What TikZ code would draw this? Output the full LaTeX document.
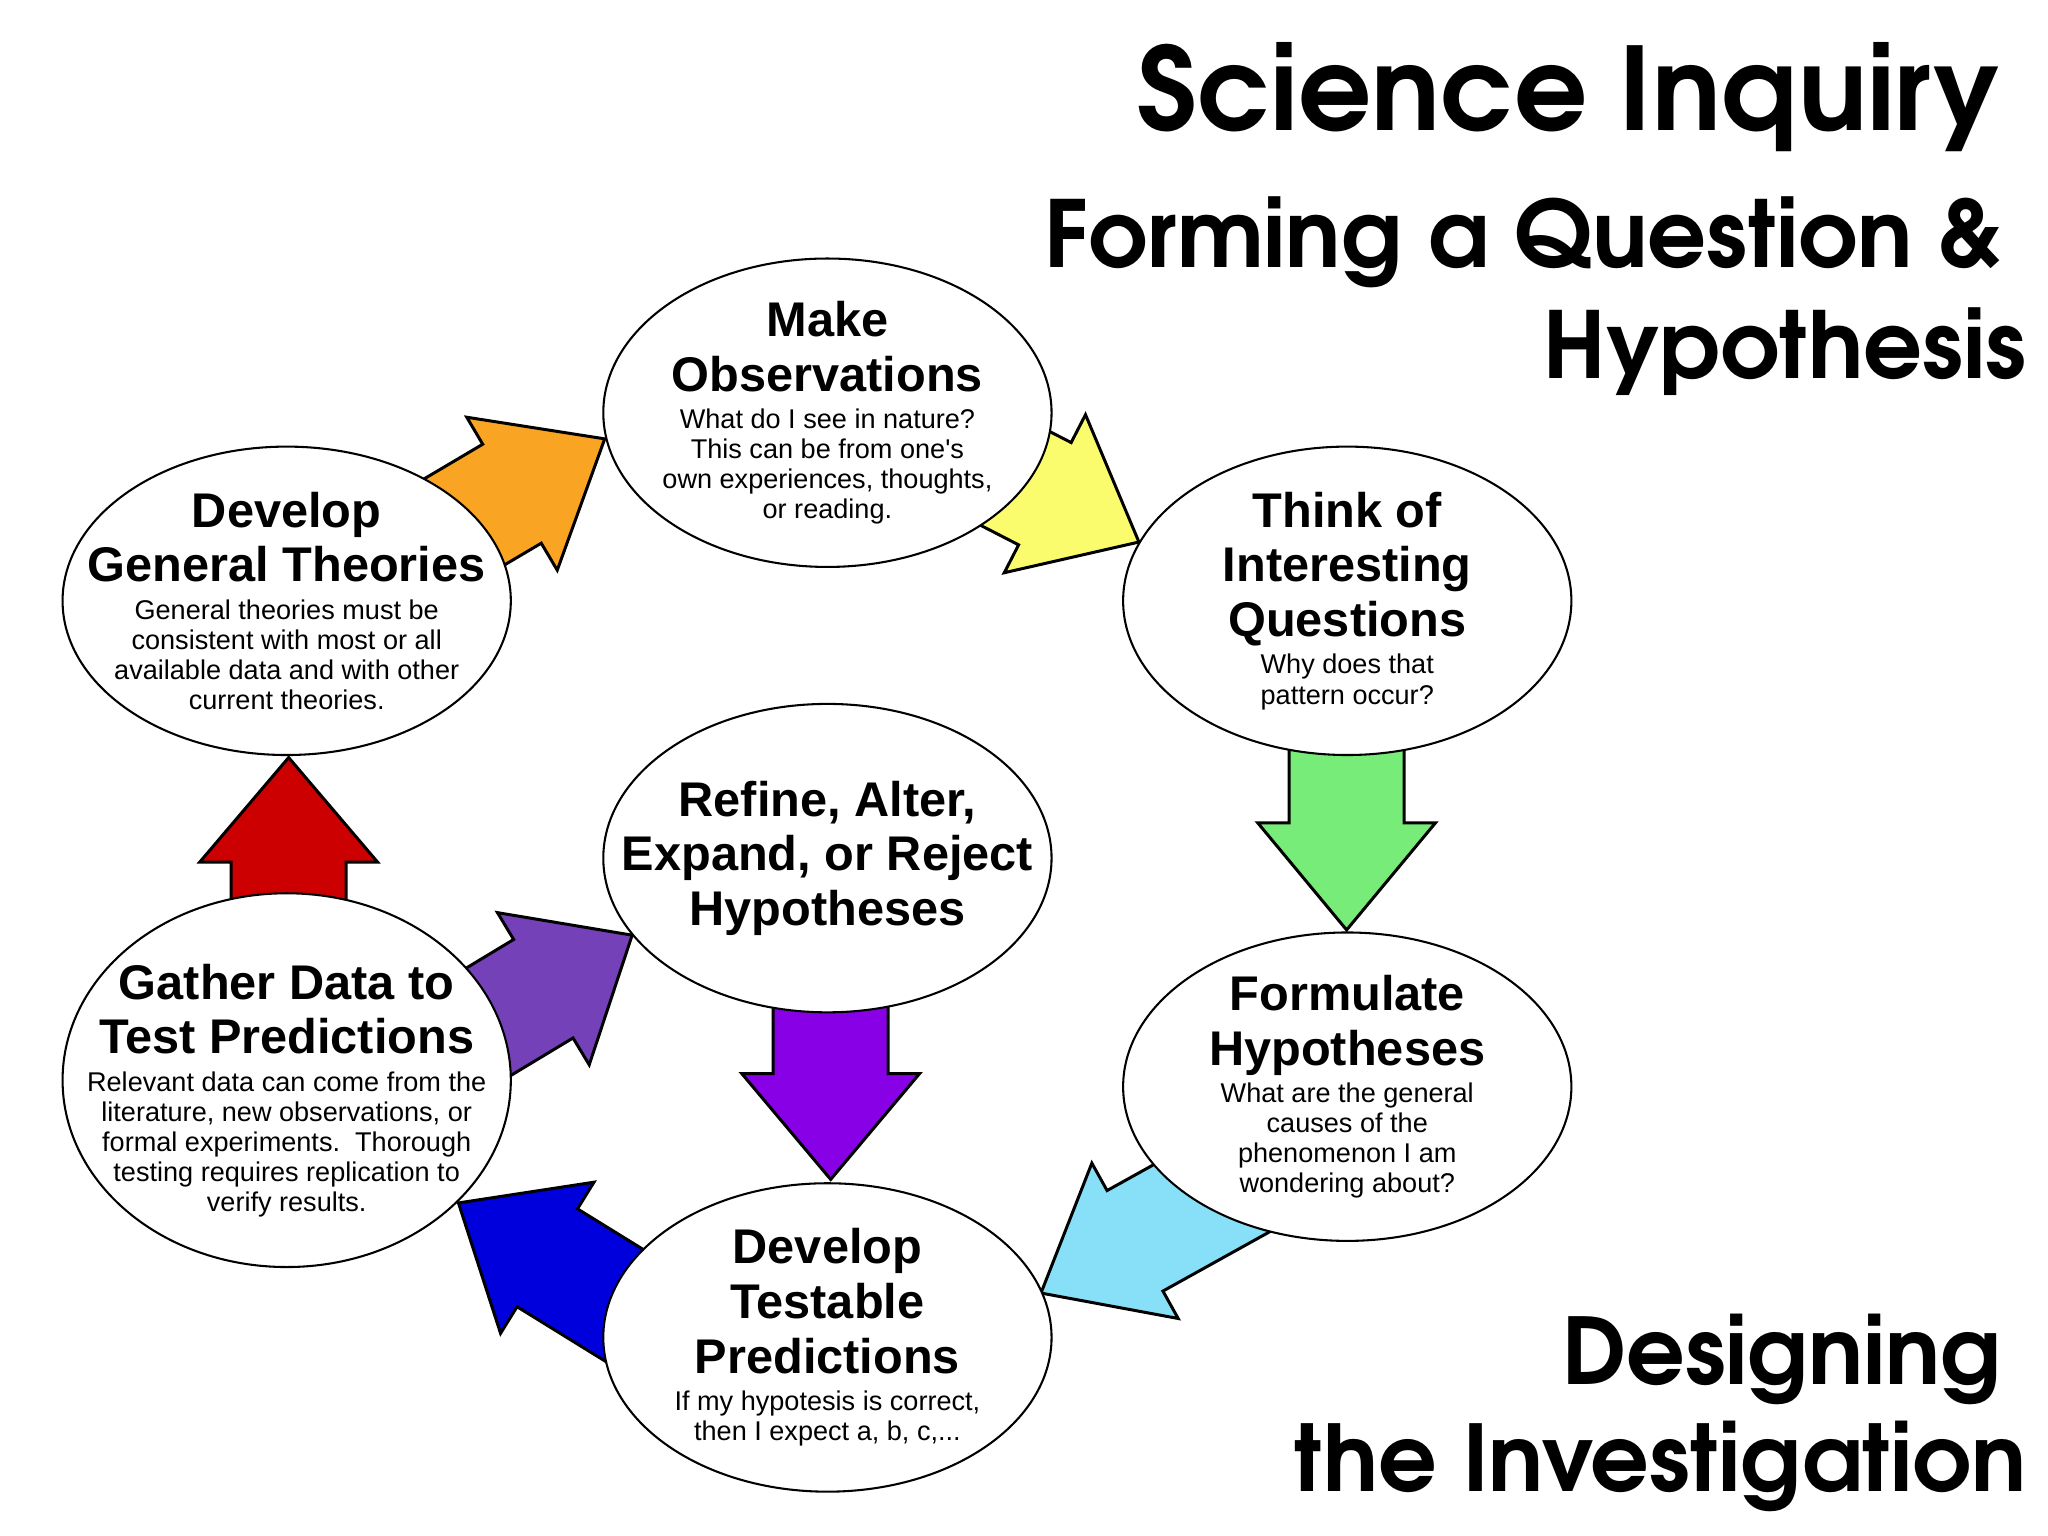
\documentclass[tikz,border=0pt]{standalone}
\usepackage{fontspec}
\setmainfont{Liberation Sans}
\newfontfamily\titlefont{TeX Gyre Adventor}
\usetikzlibrary{calc,shapes.geometric}
\definecolor{cOrange}{HTML}{F9A423}
\definecolor{cYellow}{HTML}{FBFB6E}
\definecolor{cGreen}{HTML}{78EC78}
\definecolor{cLBlue}{HTML}{88E0F8}
\definecolor{cBlue}{HTML}{0000DD}
\definecolor{cViolet}{HTML}{7541B8}
\definecolor{cPurple}{HTML}{8800E6}
\definecolor{cRed}{HTML}{CC0000}
\newcommand\hfont{\fontsize{10.6}{11.9}\selectfont\bfseries}
\newcommand\sfont{\fontsize{5.9}{6.55}\selectfont}
\newcommand\tfont[1]{\titlefont\bfseries\fontsize{#1}{#1}\selectfont}
% block arrow: fill colour, tip, head-base midpoint
\newcommand\barrow[3]{%
  \path ($(#3)!-1.4!(#2)$) coordinate (T);
  \filldraw[fill=#1, draw=black, line width=0.65pt, line join=miter]
    (#2) -- ($(#3)!0.68cm!90:(#2)$) -- ($(#3)!0.44cm!90:(#2)$)
    -- ($(T)!0.44cm!90:(#2)$) -- ($(T)!0.44cm!-90:(#2)$)
    -- ($(#3)!0.44cm!-90:(#2)$) -- ($(#3)!0.68cm!-90:(#2)$) -- cycle;}
\tikzset{
  ell/.style={ellipse, draw=black, fill=white, line width=0.45pt,
    minimum width=3.43cm, minimum height=2.36cm, inner sep=0pt},
  txt/.style={align=flush center, text width=3.4cm, inner sep=0pt},
  ttl/.style={anchor=base east, inner sep=0pt}
}
\begin{document}
\begin{tikzpicture}[x=0.01cm, y=-0.01cm]
\fill[white] (0,0) rectangle (1568,1176);
\useasboundingbox (0,0) rectangle (1568,1176);

% tips and head bases
\coordinate (orTip) at (463,336);  \coordinate (orHB) at (392,378);
\coordinate (yeTip) at (872,415);  \coordinate (yeHB) at (800,378);
\coordinate (grTip) at (1031,712); \coordinate (grHB) at (1031,630);
\coordinate (lbTip) at (797,990);  \coordinate (lbHB) at (869,950);
\coordinate (blTip) at (351,921);  \coordinate (blHB) at (419,963);
\coordinate (viTip) at (484,716);  \coordinate (viHB) at (416,757);
\coordinate (puTip) at (636,903);  \coordinate (puHB) at (636,822);
\coordinate (reTip) at (221,580);  \coordinate (reHB) at (221,660);

\barrow{cOrange}{orTip}{orHB}
\barrow{cYellow}{yeTip}{yeHB}
\barrow{cGreen}{grTip}{grHB}
\barrow{cLBlue}{lbTip}{lbHB}
\barrow{cBlue}{blTip}{blHB}
\barrow{cViolet}{viTip}{viHB}
\barrow{cPurple}{puTip}{puHB}
\barrow{cRed}{reTip}{reHB}

% ellipses
\node[ell] (obs) at (633.5,316) {};
\node[ell] (think) at (1031.5,460) {};
\node[ell] (form) at (1031.5,832) {};
\node[ell] (test) at (633.5,1024) {};
\node[ell] (refine) at (633.5,657) {};
\node[ell] (theo) at (219.5,460) {};
\node[ell, minimum height=2.86cm] (gather) at (219.5,827) {};

\node[txt] (obsT) at (obs) {{\hfont Make\\Observations\par}\vspace{1.6pt}{\sfont What do I see in nature?\\This can be from one\textquotesingle s\\own experiences, thoughts,\\or reading.\par}};
\node[txt] (thinkT) at (think) {{\hfont Think of\\Interesting\\Questions\par}\vspace{1.6pt}{\sfont Why does that\\pattern occur?\par}};
\node[txt] (formT) at (form) {{\hfont Formulate\\Hypotheses\par}\vspace{1.6pt}{\sfont What are the general\\causes of the\\phenomenon I am\\wondering about?\par}};
\node[txt] (testT) at (test) {{\hfont Develop\\Testable\\Predictions\par}\vspace{1.6pt}{\sfont If my hypotesis is correct,\\then I expect a, b, c,...\par}};
\node[txt] (refineT) at (refine) {{\hfont Refine, Alter,\\Expand, or Reject\\Hypotheses\par}};
\node[txt] (theoT) at (theo) {{\hfont Develop\\General Theories\par}\vspace{1.6pt}{\sfont General theories must be\\consistent with most or all\\available data and with other\\current theories.\par}};
\node[txt] (gatherT) at ($(gather)+(0,8)$) {{\hfont Gather Data to\\Test Predictions\par}\vspace{1.6pt}{\sfont Relevant data can come from the\\literature, new observations, or\\formal experiments.\ \ Thorough\\testing requires replication to\\verify results.\par}};

% titles
\node[ttl] (t1) at (1532,100) {\tfont{25.0}Science Inquiry};
\node[ttl] (t2) at (1533,205) {\tfont{20.1}Forming a Question \&};
\node[ttl] (t3) at (1552,290) {\tfont{20.1}Hypothesis};
\node[ttl] (t4) at (1533,1060) {\tfont{20.0}Designing};
\node[ttl] (t5) at (1552,1142) {\tfont{20.0}the Investigation};
\end{tikzpicture}
\end{document}
